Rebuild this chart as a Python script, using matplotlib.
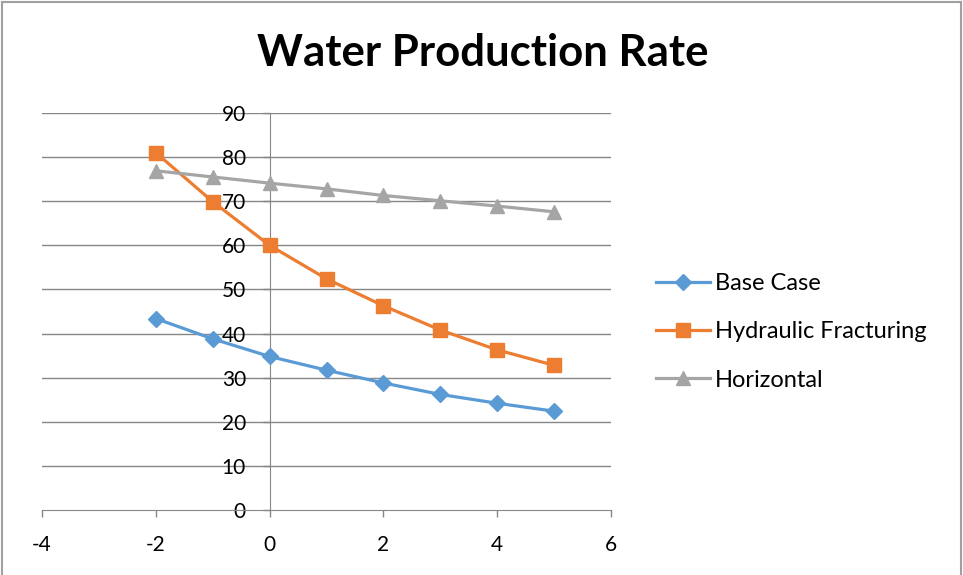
import matplotlib
matplotlib.use("Agg")
import matplotlib.pyplot as plt
from matplotlib.lines import Line2D

plt.rcParams['font.family'] = ['Lato', 'DejaVu Sans']

x = [-2, -1, 0, 1, 2, 3, 4, 5]
base_case = [43.4, 38.8, 34.8, 31.7, 28.8, 26.2, 24.2, 22.4]
hydraulic = [81.0, 69.9, 60.0, 52.4, 46.3, 40.8, 36.3, 32.8]
horizontal = [76.9, 75.5, 74.1, 72.8, 71.3, 70.1, 68.9, 67.6]
series_names = ["Base Case", "Hydraulic Fracturing", "Horizontal"]
title = "Water Production Rate"
xticks = [-4, -2, 0, 2, 4, 6]
yticks = [0, 10, 20, 30, 40, 50, 60, 70, 80, 90]

fig = plt.figure(figsize=(9.63, 5.75), dpi=100)
ax = fig.add_axes([42/963, 1-510/575, (611-42)/963, (510-113)/575])

grid_c = '#868686'
for yv in yticks[1:]:
    ax.axhline(yv, color=grid_c, lw=1.0, zorder=1)

ax.plot(x, base_case, color='#5B9BD5', lw=2.3, marker='D', ms=8.5, zorder=3, label=series_names[0])
ax.plot(x, hydraulic, color='#ED7D31', lw=2.3, marker='s', ms=10, zorder=3, label=series_names[1])
ax.plot(x, horizontal, color='#A5A5A5', lw=2.3, marker='^', ms=10.5, zorder=3, label=series_names[2])

ax.set_xlim(-4, 6)
ax.set_ylim(0, 90)
ax.set_xticks(xticks)
ax.set_yticks(yticks)
ax.set_xticklabels([str(v) for v in xticks])
ax.set_yticklabels([str(v) for v in yticks])

for s in ['top', 'right']:
    ax.spines[s].set_visible(False)
ax.spines['left'].set_position(('data', 0))
ax.spines['bottom'].set_position(('data', 0))
ax.spines['left'].set_color(grid_c)
ax.spines['bottom'].set_color(grid_c)
ax.spines['left'].set_zorder(1)
ax.tick_params(axis='both', colors=grid_c, labelcolor='black', labelsize=15, length=5, width=1)
ax.tick_params(axis='y', pad=12)
ax.tick_params(axis='x', pad=13)
ax.set_facecolor('none')

fig.text(483/963, 1-53/575, title, ha='center', va='center', fontsize=31.5, fontweight='bold')

leg = ax.legend(loc='center left', bbox_to_anchor=(656/963, 1-332/575), bbox_transform=fig.transFigure,
                frameon=False, fontsize=17, handlelength=2.3, handletextpad=0.2, labelspacing=1.15,
                borderaxespad=0, borderpad=0)

# chart border
bc = '#A0A0A0'
fig.add_artist(Line2D([1.5/963, 1.5/963], [0, 1-1.5/575], color=bc, lw=1.5, transform=fig.transFigure))
fig.add_artist(Line2D([1.5/963, 961/963], [1-1.5/575, 1-1.5/575], color=bc, lw=1.5, transform=fig.transFigure))
fig.add_artist(Line2D([961/963, 961/963], [0, 1-1.5/575], color=bc, lw=1.5, transform=fig.transFigure))

fig.savefig('out.png', dpi=100)
